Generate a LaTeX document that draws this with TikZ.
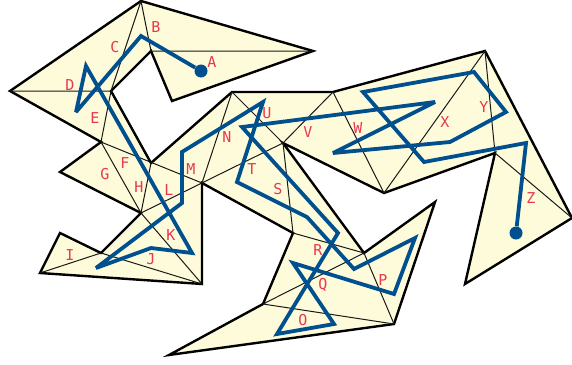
\documentclass[tikz,border=0pt]{standalone}
\usepackage{fontspec}
\setmonofont{DejaVu Sans Mono}
\definecolor{polyfill}{HTML}{FEFBDB}
\definecolor{pathblue}{HTML}{00508F}
\definecolor{labelred}{HTML}{E8384F}
\tikzset{
  outline/.style={draw=black,line width=2.4pt,fill=polyfill,line join=miter,miter limit=20},
  thin edge/.style={draw=black!90,line width=1pt},
  route/.style={draw=pathblue,line width=3.8pt,line join=miter,miter limit=4},
  endpoint/.style={circle,fill=pathblue,inner sep=0pt,minimum size=13pt},
  tag/.style={text=labelred,font=\ttfamily\fontsize{15}{15}\selectfont,inner sep=0pt}
}
\begin{document}
\begin{tikzpicture}[x=1pt,y=-1pt]
\useasboundingbox (0,0) rectangle (572,364);
\foreach \n/\x/\y in {a/141/1,b/313/51,c/172/101,d/151/51,e/111/91,f/151/163,g/232/92,h/333/92,i/485/51,j/572/218,k/465/284,l/495/153,m/384/193,n/283/143,o/364/253,p/435/202,q/394/324,r/169/355,s/263/304,t/293/233,u/202/183,v/202/284,w/40/273,x/60/233,y/101/253,z/141/213,aa/60/172,ab/101/142,ac/10/91}
  \coordinate (\n) at (\x,\y);
\draw[outline] (a)--(b)--(c)--(d)--(e)--(f)--(g)--(h)--(i)--(j)--(k)--(l)--(m)--(n)--(o)--(p)--(q)--(r)--(s)--(t)--(u)--(v)--(w)--(x)--(y)--(z)--(aa)--(ab)--(ac)--cycle;
\draw[thin edge] (d)--(b) (a)--(d) (a)--(e) (ac)--(e) (e)--(ab) (ab)--(u) (ab)--(z) (f)--(z) (z)--(n) (z)--(v) (w)--(y) (y)--(v) (g)--(u) (g)--(n) (h)--(n) (n)--(t) (h)--(m) (m)--(i) (i)--(l) (l)--(j) (t)--(o) (o)--(s) (o)--(q) (s)--(q);
\node[endpoint] (start) at (201,71) {};
\node[endpoint] (finish) at (516,233) {};
\draw[route] (start)--(141,36)--(76,112)--(86,66)--(192,253)--(151,248)--(96,268)--(182,203)--(182,152)--(263,102)--(237,182)--(307,217)--(354,269)--(415,238)--(394,294)--(293,263)--(334,324)--(277,334)--(338,233)--(242,127)--(435,102)--(333,153)--(450,142)--(506,112)--(474,72)--(363,92)--(424,162)--(526,143)--(finish);
\foreach \t/\x/\y in {A/212/62,B/156/27,C/115/47,D/70/85,E/95/118,F/125/163,G/105/174,H/139/187,I/70/255,J/151/259,K/171/235,L/169/190,M/191/169,N/227/137,O/303/320,P/383/280,Q/323/285,R/318/250,S/278/189,T/252/169,U/267/113,V/308/132,W/358/128,X/445/122,Y/484/107,Z/531/198}
  \node[tag] (lab\t) at (\x,\y) {\t};
\end{tikzpicture}
\end{document}
